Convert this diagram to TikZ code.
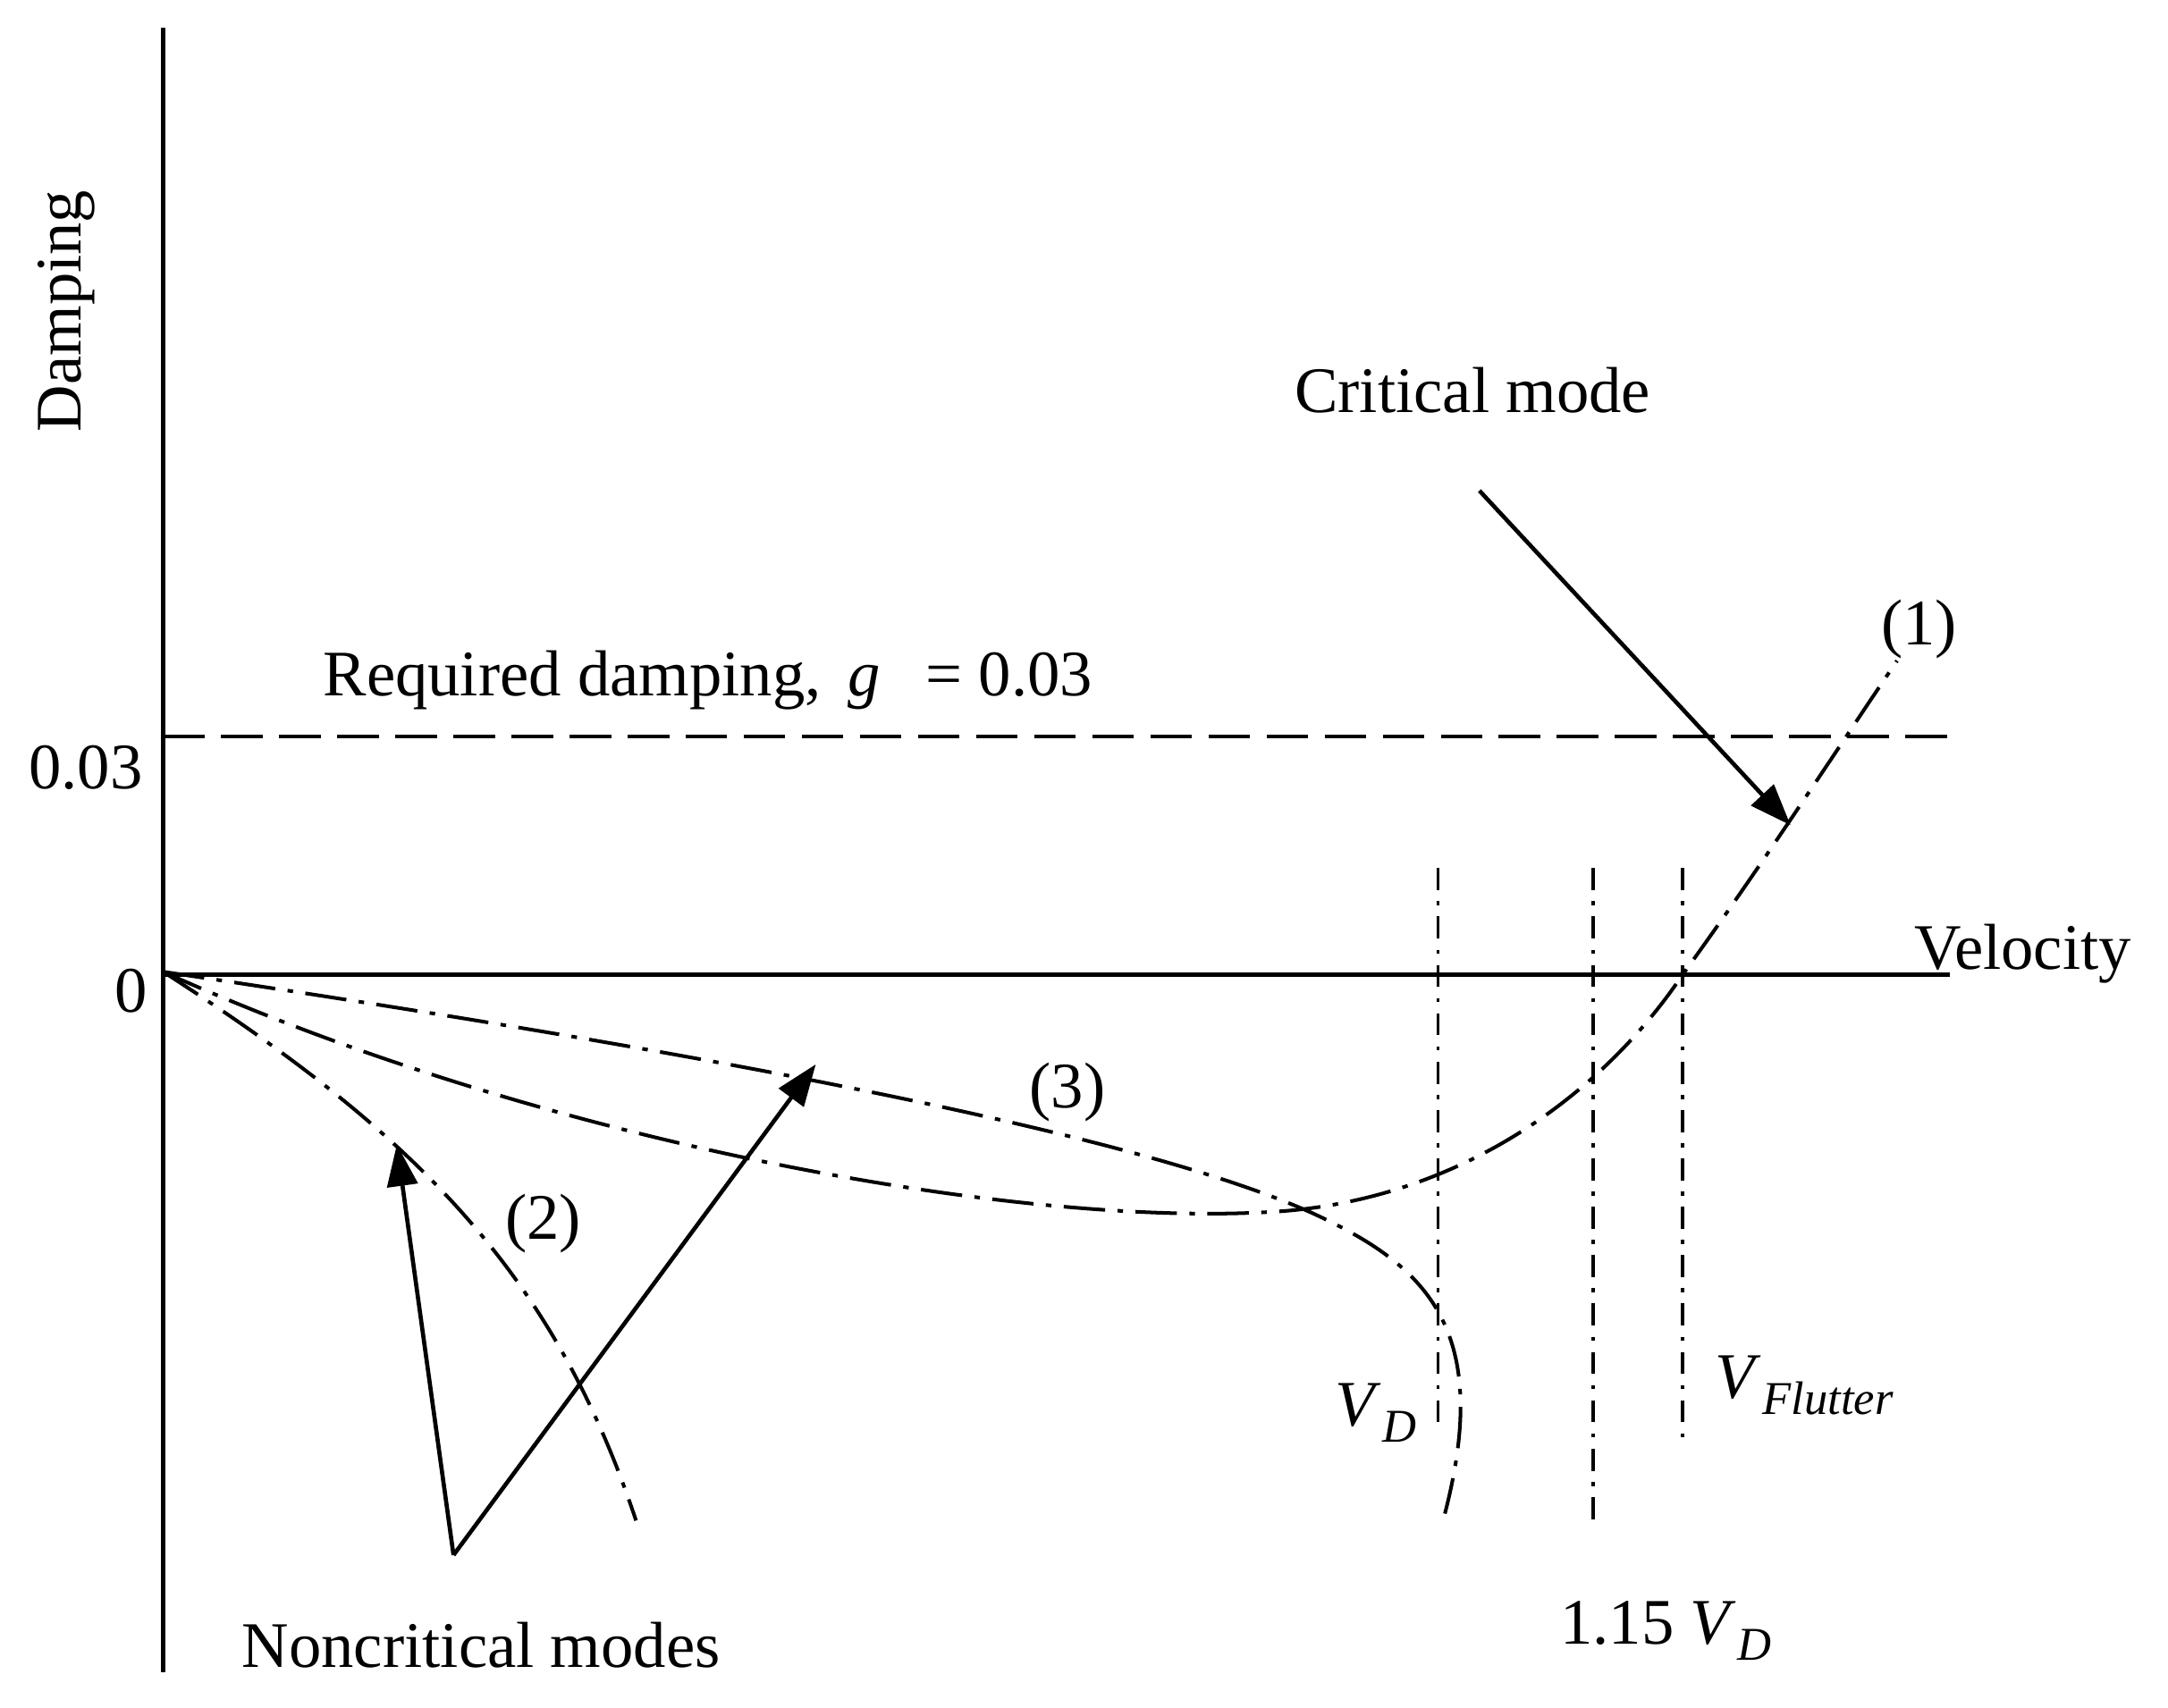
\documentclass[tikz,border=0pt]{standalone}
\usepackage{fontspec}
\setmainfont{Liberation Serif}
\usetikzlibrary{arrows.meta}
\newcommand{\vsub}[1]{\textit{V}\kern1pt\raisebox{-0.25em}{\fontsize{34}{38}\selectfont\textit{#1}}}
\begin{document}
\begin{tikzpicture}[x=1pt,y=-1pt,
  ln/.style={line width=3pt},
  dd/.style={line width=2.6pt,dash pattern=on 30pt off 9pt on 4pt off 9pt},
  vl/.style={line width=2.4pt,dash pattern=on 16pt off 8pt on 3pt off 8pt},
  arr/.style={line width=3pt,-{Triangle[length=30pt,width=22pt]}},
  lab/.style={font=\fontsize{47}{52}\selectfont,inner sep=0pt}]
\useasboundingbox (0,0) rectangle (1568,1235);
\fill[white] (0,0) rectangle (1568,1235);
% axes
\coordinate (ytop) at (118,20); \coordinate (ybot) at (118,1210);
\coordinate (o) at (118,705); \coordinate (xend) at (1410,705);
\draw[ln] (ytop) -- (ybot);
\draw[ln] (o) -- (xend);
\coordinate (d0) at (118,533); \coordinate (d1) at (1410,533);
\draw[line width=2.6pt,dash pattern=on 30pt off 12pt] (d0) -- (d1);
% labels
\node[lab] (l003) at (62,555) {0.03};
\node[lab] (l0) at (95,717) {0};
\node[lab,rotate=90] (ldamp) at (48,225) {Damping};
\node[lab] (lvel) at (1463,690) {Velocity};
\node[lab] (lreq) at (512,492) {Required damping,\, \textit{g}\;\, = 0.03};
\node[lab] (lcrit) at (1065,282) {Critical mode};
\node[lab] (l1) at (1388,455) {(1)};
\node[lab] (l2) at (393,885) {(2)};
\node[lab] (l3) at (772,790) {(3)};
\node[lab] (lnon) at (348,1190) {Noncritical modes};
\node[lab] (lvd) at (995,1022) {\vsub{D}};
\node[lab] (lvf) at (1305,1002) {\vsub{Flutter}};
\node[lab] (l115) at (1205,1180) {1.15 \vsub{D}};
% vertical lines
\coordinate (a0) at (1040,628); \coordinate (a1) at (1040,1035);
\coordinate (b0) at (1152,628); \coordinate (b1) at (1152,1100);
\coordinate (c0) at (1217,628); \coordinate (c1) at (1217,1045);
\draw[vl] (a0) -- (a1); \draw[vl] (b0) -- (b1); \draw[vl] (c0) -- (c1);
% curve 1 (critical)
\draw[dd] (118,703) .. controls (400,830) and (750,890) .. (930,876)
  .. controls (1060,865) and (1160,790) .. (1217,705)
  .. controls (1275,625) and (1330,540) .. (1372,478);
% curve 3
\draw[dd] (118,703) .. controls (400,745) and (800,810) .. (950,878)
  .. controls (1030,915) and (1080,960) .. (1045,1095);
% curve 2
\draw[dd] (118,703) .. controls (300,820) and (400,920) .. (460,1100);
% arrows
\coordinate (ca0) at (1070,355); \coordinate (ca1) at (1295,597);
\draw[arr] (ca0) -- (ca1);
\coordinate (n0) at (328,1125);
\coordinate (n1) at (287,828); \coordinate (n2) at (590,770);
\draw[arr] (n0) -- (n1);
\draw[arr] (n0) -- (n2);
\end{tikzpicture}
\end{document}
